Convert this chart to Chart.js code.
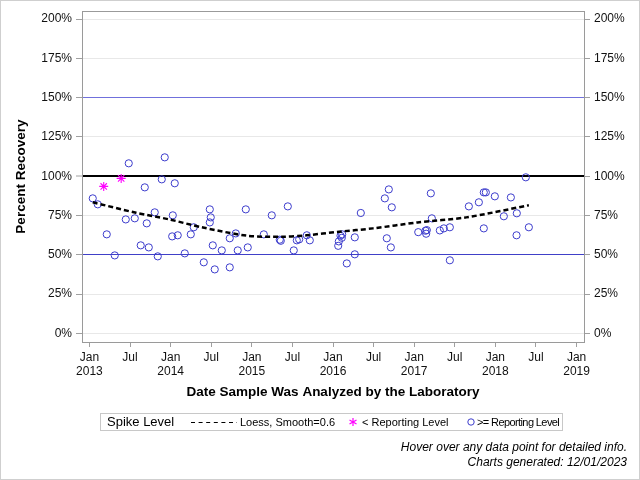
<!DOCTYPE html>
<html>
<head>
<meta charset="utf-8">
<script src="https://cdn.jsdelivr.net/npm/chart.js@4.4.1/dist/chart.umd.min.js"></script>
<style>
  body { margin: 0; background: #fff; }
  #wrap { position: relative; width: 640px; height: 480px; font-family: "Liberation Sans", Arial, sans-serif; color: #000; }
  #c { position: absolute; left: 0; top: 0; }
  #frame { position: absolute; left: 0; top: 0; width: 640px; height: 480px; box-sizing: border-box; border: 1px solid #cfcfcf; pointer-events: none; }
  #legend { position: absolute; left: 100px; top: 413px; width: 463px; height: 18px; box-sizing: border-box; border: 1px solid #c8c8c8; }
  #legend span, #legend svg { position: absolute; white-space: nowrap; }
  #legend .t { font-size: 13px; top: 0px; line-height: 16px; }
  #legend .i { font-size: 11px; top: 1px; line-height: 14px; }
  .foot { position: absolute; right: 13px; font-size: 12px; font-style: italic; line-height: 14px; white-space: nowrap; }
</style>
</head>
<body>
<div id="wrap">
  <canvas id="c" width="640" height="480"></canvas>
  <div id="legend">
    <span class="t" style="left:6px">Spike Level</span>
    <svg style="left:90px;top:7px" width="46" height="3"><line x1="0" y1="1.5" x2="46" y2="1.5" stroke="#000" stroke-width="1" stroke-dasharray="4 3.6"/></svg>
    <span class="i" style="left:139px">Loess, Smooth=0.6</span>
    <svg style="left:247px;top:3px" width="10" height="10">
      <g stroke="#ff00ff" stroke-width="1.2"><line x1="5" y1="1" x2="5" y2="9"/><line x1="1.5" y1="3" x2="8.5" y2="7"/><line x1="1.5" y1="7" x2="8.5" y2="3"/></g>
    </svg>
    <span class="i" style="left:261px">&lt; Reporting Level</span>
    <svg style="left:365px;top:3px" width="10" height="10"><circle cx="5" cy="5" r="3.2" fill="none" stroke="#3c3ccc" stroke-width="1"/></svg>
    <span class="i" style="left:376px;letter-spacing:-0.6px">&gt;= Reporting Level</span>
  </div>
  <div class="foot" style="top:440px">Hover over any data point for detailed info.</div>
  <div class="foot" style="top:455px">Charts generated: 12/01/2023</div>
  <div id="frame"></div>
</div>
<script>
// x values are months since Jan 2013, y values are percent recovery

// >= Reporting Level (open circles)
const aboveX = [0.49, 1.23, 2.56, 3.74, 5.37, 5.81, 6.70, 7.58, 8.18, 8.47,
  8.77, 9.65, 10.10, 10.69, 11.13, 12.23, 12.32, 12.61, 13.05, 14.09,
  14.98, 15.42, 16.90, 17.79, 17.93, 17.79, 18.23, 18.52, 19.56, 20.74,
  20.74, 21.63, 21.92, 23.11, 23.40,
  25.77, 26.95, 28.13, 28.28, 29.32, 30.20, 30.65, 31.00, 32.13, 32.57,
  36.77, 36.86, 37.11, 37.36, 37.30, 38.04, 39.22, 39.22, 40.11, 43.66,
  44.25, 44.69, 43.95, 44.55,
  48.60, 49.67, 49.77, 49.87, 50.46, 50.61, 51.79, 52.38, 53.27, 53.27,
  56.08, 57.56, 58.29, 58.59, 58.29, 59.92, 61.25, 62.29, 63.17, 63.13,
  64.50, 64.95];
const aboveY = [85.9, 82.1, 63.0, 49.6, 72.5, 108.2, 73.2, 56.0, 92.9, 70.0,
  54.7, 77.0, 49.0, 98.0, 112.0, 61.7, 75.1, 95.5, 62.4, 50.9,
  63.0, 67.5, 45.2, 78.9, 73.8, 70.6, 56.0, 40.7, 52.8, 42.0,
  60.5, 63.6, 52.8, 78.9, 54.7,
  63.0, 75.1, 59.6, 58.9, 80.8, 52.8, 59.2, 59.8, 62.4, 59.2,
  55.7, 58.5, 62.1, 63.0, 60.8, 44.5, 61.1, 50.3, 76.6, 85.9,
  91.6, 80.2, 60.5, 54.7,
  64.4, 65.3, 63.4, 65.7, 89.1, 73.2, 65.5, 66.8, 67.5, 46.5,
  80.8, 83.4, 89.7, 89.7, 66.8, 87.2, 74.5, 86.5, 76.4, 62.4,
  99.3, 67.5];

// < Reporting Level (asterisks)
const belowX = [2.11, 4.69];
const belowY = [93.5, 98.6];

// loess fit, smooth=0.6
const loessX = [0.49, 6.9, 11.8, 16.6, 23.4, 28.6, 32.1, 36.9, 41.9, 48.5, 55.7, 64.95];
const loessY = [83.4, 76.7, 72.5, 67.5, 62.1, 61.5, 62.4, 64.7, 66.8, 70.6, 73.8, 81.5];

const xTickVals = [0, 6, 12, 18, 24, 30, 36, 42, 48, 54, 60, 66, 72];
const xTickLabels = [['Jan', '2013'], 'Jul', ['Jan', '2014'], 'Jul', ['Jan', '2015'], 'Jul',
  ['Jan', '2016'], 'Jul', ['Jan', '2017'], 'Jul', ['Jan', '2018'], 'Jul', ['Jan', '2019']];
const yTickVals = [0, 25, 50, 75, 100, 125, 150, 175, 200];

const pts = (xs, ys) => xs.map((x, i) => ({ x: x, y: ys[i] }));

Chart.defaults.font.family = '"Liberation Sans", Arial, sans-serif';
Chart.defaults.color = '#111';

// gray box round the plot area
const plotFrame = {
  id: 'plotFrame',
  beforeDatasetsDraw(chart) {
    const a = chart.chartArea, ctx = chart.ctx;
    ctx.save();
    ctx.strokeStyle = '#9a9a9a';
    ctx.lineWidth = 1;
    ctx.strokeRect(Math.round(a.left) + 0.5, Math.round(a.top) + 0.5,
      Math.round(a.right - a.left), Math.round(a.bottom - a.top));
    ctx.restore();
  }
};

function refColor(v) {
  if (v === 100) return '#000';
  if (v === 50) return '#4040c8';
  if (v === 150) return '#7070dc';
  return '#e8e8e8';
}

const setYTicks = s => { s.ticks = yTickVals.map(v => ({ value: v })); };

new Chart(document.getElementById('c'), {
  type: 'scatter',
  data: {
    datasets: [{
      label: 'Loess, Smooth=0.6',
      data: pts(loessX, loessY),
      showLine: true,
      borderColor: '#000',
      borderWidth: 2.5,
      borderDash: [5, 3],
      pointRadius: 0,
      tension: 0.3
    }, {
      label: '< Reporting Level',
      data: pts(belowX, belowY),
      pointStyle: 'star',
      pointRadius: 4.5,
      borderColor: '#ff00ff',
      backgroundColor: '#ff00ff',
      pointBorderWidth: 1.1
    }, {
      label: '>= Reporting Level',
      data: pts(aboveX, aboveY),
      pointStyle: 'circle',
      pointRadius: 3.6,
      borderColor: '#3c3ccc',
      backgroundColor: 'rgba(0,0,0,0)',
      pointBorderWidth: 1
    }]
  },
  options: {
    responsive: false,
    animation: false,
    layout: { padding: { left: 0, right: 0, top: 11, bottom: 76 } },
    plugins: {
      legend: { display: false },
      tooltip: { enabled: true }
    },
    scales: {
      x: {
        type: 'linear',
        min: -1.1,
        max: 73.1,
        afterBuildTicks: s => { s.ticks = xTickVals.map(v => ({ value: v })); },
        afterFit: s => { s.height = 62; },
        border: { display: false },
        grid: { drawOnChartArea: false, color: '#a0a0a0', tickLength: 5 },
        ticks: {
          autoSkip: false, maxRotation: 0, padding: 3,
          font: { size: 12 },
          callback: (v, i) => xTickLabels[i]
        },
        title: {
          display: true,
          text: 'Date Sample Was Analyzed by the Laboratory',
          font: { size: 13.5, weight: 'bold' },
          color: '#000',
          padding: { top: 0, bottom: 4 }
        }
      },
      y: {
        position: 'left',
        min: -5.5,
        max: 205,
        afterBuildTicks: setYTicks,
        afterFit: s => { s.width = 82; },
        border: { display: false },
        grid: {
          color: c => refColor(c.tick.value),
          lineWidth: c => (c.tick.value === 100 ? 2 : 1),
          tickColor: '#a0a0a0',
          tickWidth: 1,
          tickLength: 6
        },
        ticks: { padding: 4, font: { size: 12 }, callback: v => v + '%' },
        title: {
          display: true,
          text: 'Percent Recovery',
          font: { size: 13.5, weight: 'bold' },
          color: '#000',
          padding: { top: 13, bottom: 0 }
        }
      },
      y2: {
        position: 'right',
        min: -5.5,
        max: 205,
        afterBuildTicks: setYTicks,
        afterFit: s => { s.width = 56; },
        border: { display: false },
        grid: { drawOnChartArea: false, color: '#a0a0a0', tickLength: 6 },
        ticks: { padding: 4, font: { size: 12 }, callback: v => v + '%' }
      }
    }
  },
  plugins: [plotFrame]
});
</script>
</body>
</html>
